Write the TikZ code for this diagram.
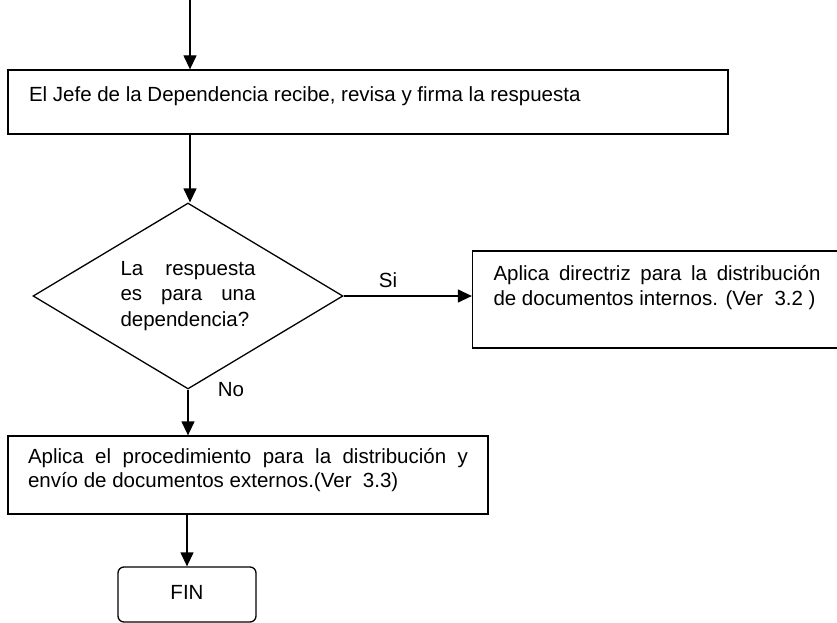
\documentclass[tikz,border=0pt]{standalone}
\usepackage{fontspec}
\setmainfont{Liberation Sans}
\usetikzlibrary{shapes.geometric,arrows.meta}
\tolerance=10000
\hyphenpenalty=10000

\begin{document}
\begin{tikzpicture}[x=1pt,y=-1pt,line width=1.3pt,font=\fontsize{20.5}{24.5}\selectfont]
                \useasboundingbox (0,0) rectangle (837,623);
                \tikzstyle{box}=[rectangle, draw, inner ysep=0pt, align=justify]
                \tikzstyle{decision}=[diamond, draw, aspect=1.67, inner sep=0pt, text width=135pt, align=justify, minimum width=310pt, minimum height=186pt, font=\fontsize{20.5}{25.5}\selectfont]
                \tikzstyle{fin}=[rectangle, draw, rounded corners=6pt, minimum width=138pt, inner ysep=0pt, text height=32pt, text depth=23pt]
                \tikzstyle{lbl}=[inner sep=0pt]

                \coordinate (S) at (190,0);
                \node[box, text width=678pt, inner xsep=21pt, text height=32pt, text depth=32pt] (P1) at (368,102) {El Jefe de la Dependencia recibe, revisa y firma la respuesta};
                \node[decision] (D) at (188,296) {La respuesta es para una dependencia?};
                \node[box, text width=327pt, inner xsep=21pt, text height=29pt, text depth=68pt, font=\fontsize{20.5}{25}\selectfont] (P2) at (657,299.5) {Aplica directriz para la distribución de documentos internos. (Ver~ 3.2~)};
                \node[box, text width=440pt, inner xsep=20pt, text height=27pt, text depth=51pt] (P3) at (248,475) {Aplica el procedimiento para la distribución y envío de documentos externos.(Ver~ 3.3)};
                \node[fin] (F) at (187,594.5) {FIN};
                \node[lbl] (si) at (388,280) {Si};
                \node[lbl] (no) at (231,390) {No};

                \tikzstyle{bind}=[->,>={Triangle[length=14pt,width=13pt]}]

                \draw[bind] (S) -- (S |- P1.north);
                \draw[bind] (S |- P1.south) -- (S |- D.north);
                \draw[bind] (D.east) -- (D.east -| P2.west);
                \draw[bind] (D.south) -- (D.south |- P3.north);
                \draw[bind] (F.north |- P3.south) -- (F.north);
            \end{tikzpicture}
\end{document}
